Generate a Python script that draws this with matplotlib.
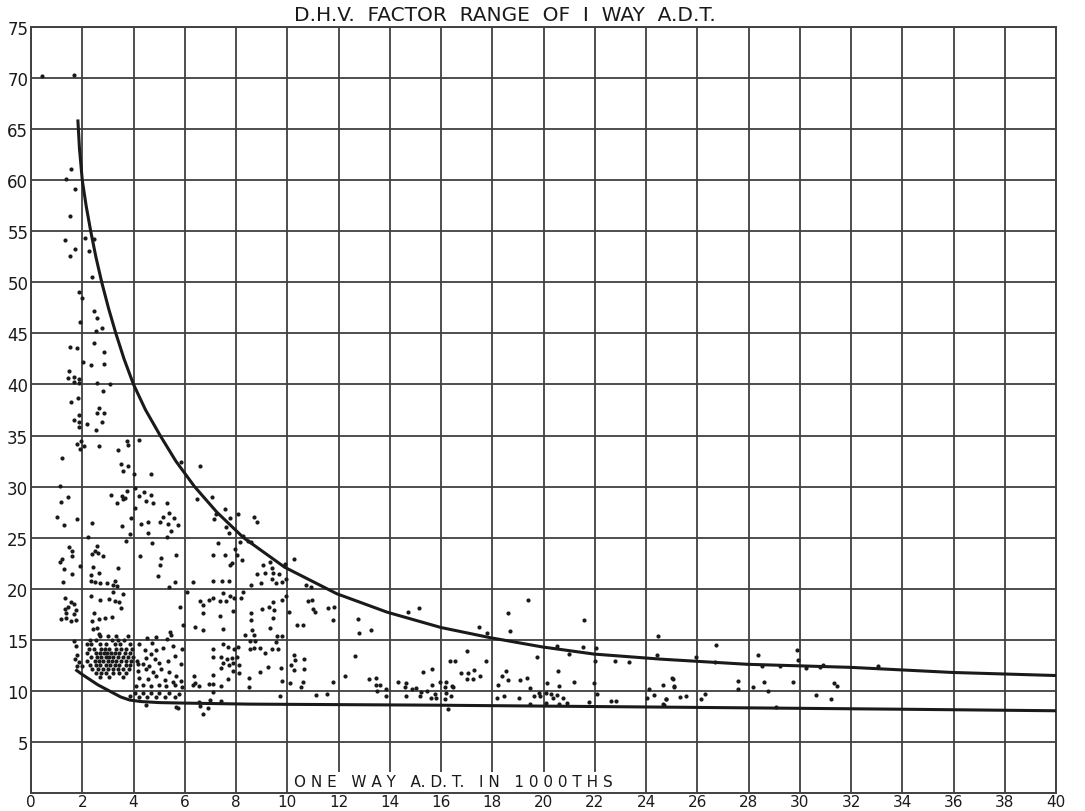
import matplotlib
matplotlib.use("Agg")
import matplotlib.pyplot as plt
import numpy as np

# x ticks (one way ADT in 1000ths) and y ticks (DHV factor)
x_ticks = list(range(0, 41, 2))
y_ticks = list(range(5, 76, 5))

# envelope curves
upper_x = [1.83, 1.89, 2.0, 2.15, 2.33, 2.53, 2.76, 3.02, 3.31, 3.63, 4.0, 4.47, 5.04,
           5.65, 6.38, 7.25, 8.29, 9.9, 11.94, 13.9, 16.0, 17.93, 19.95, 21.97, 24.6,
           27.95, 31.98, 35.96, 40.0]
upper_y = [65.8, 63.1, 60.0, 57.5, 55.0, 52.5, 50.0, 47.5, 45.0, 42.5, 40.0, 37.5, 35.0,
           32.5, 30.0, 27.5, 25.0, 22.1, 19.5, 17.7, 16.2, 15.2, 14.3, 13.6, 13.1,
           12.6, 12.3, 11.8, 11.5]
lower_x = [1.78, 2.0, 2.3, 2.6, 2.9, 3.2, 3.5, 3.85, 4.3, 5.0, 6.0, 8.5, 15.6, 25.0, 34.0, 40.0]
lower_y = [12.0, 11.6, 11.1, 10.6, 10.2, 9.8, 9.4, 9.1, 8.95, 8.85, 8.8, 8.7, 8.6, 8.4, 8.2, 8.05]

# observed stations, grouped by area of the sheet
pts_left = [
    (0.43, 70.2), (1.68, 70.3),
    (1.56, 61.1), (1.36, 60.1), (1.70, 59.1), (1.52, 56.5), (1.32, 54.1), (1.70, 53.3),
    (1.51, 52.6), (1.88, 49.1), (2.0, 48.5), (1.9, 46.1), (1.53, 43.7), (1.8, 43.6),
    (2.02, 42.2), (1.47, 41.3), (1.45, 40.6), (1.68, 40.7), (1.88, 40.5), (1.67, 40.2),
    (1.88, 40.1), (1.82, 38.7), (1.56, 38.3), (1.88, 37.0), (1.68, 36.5), (1.88, 36.3),
    (1.88, 35.8), (1.94, 34.5), (1.8, 34.2), (2.08, 34.0), (1.91, 33.7), (1.19, 32.8),
    (1.13, 30.1), (1.45, 29.0), (1.17, 28.5), (1.03, 27.0), (1.79, 26.8), (1.29, 26.2),
    (1.5, 24.1), (1.13, 22.6), (1.2, 22.9), (1.6, 23.2), (1.6, 23.7), (1.28, 21.9),
    (1.6, 21.4), (1.91, 22.2), (1.25, 20.7),
    (1.34, 19.1), (1.55, 18.7), (1.66, 18.5), (1.46, 18.2), (1.31, 18.0), (1.74, 17.9),
    (1.37, 17.6), (1.66, 17.5), (1.17, 17.0), (1.37, 17.1), (1.56, 16.8), (1.76, 16.9),
    (1.66, 14.9), (1.76, 14.4), (1.8, 13.5), (1.73, 13.1), (1.88, 12.8), (1.98, 12.4),
    (1.8, 12.4),
]
pts_2_4_upper = [
    (2.1, 54.3), (2.45, 54.2), (2.26, 53.1), (2.38, 50.5), (2.47, 47.2), (2.57, 46.5),
    (2.76, 45.5), (2.55, 45.2), (2.45, 44.1), (2.85, 43.2), (2.35, 41.9), (2.86, 42.0),
    (2.59, 40.1), (3.08, 40.0), (2.79, 39.4), (2.64, 37.7), (2.59, 37.2), (2.86, 37.2),
    (2.76, 36.3), (2.19, 36.1), (2.54, 35.5), (2.65, 34.0),
    (3.75, 34.5), (4.22, 34.6), (3.8, 34.1), (3.4, 33.6), (3.5, 32.2), (3.79, 32.0),
    (3.58, 31.5), (4.01, 31.2), (4.06, 29.9), (3.14, 29.2), (3.55, 29.1), (3.6, 28.8),
    (3.66, 28.9), (4.23, 29.1), (4.41, 29.5), (3.76, 29.6), (3.37, 28.4), (4.06, 27.9),
    (3.9, 26.9), (2.37, 26.4), (3.55, 26.1), (3.87, 25.4), (2.24, 25.1), (3.71, 24.7),
    (2.59, 24.2),
    (2.37, 23.4), (2.5, 23.7), (2.6, 23.5), (2.82, 23.2), (2.43, 22.1), (3.41, 22.0),
    (2.67, 21.5), (2.33, 21.3), (2.33, 20.8), (2.5, 20.7), (2.7, 20.6), (2.95, 20.6),
    (3.28, 20.8), (3.18, 20.4), (3.37, 20.3), (3.2, 19.7), (3.6, 19.5), (2.33, 19.3),
    (2.7, 18.9), (3.03, 19.0), (3.28, 18.8), (3.44, 18.7), (3.5, 18.1),
    (2.37, 16.8), (2.65, 17.0), (2.89, 17.1), (3.15, 17.2), (2.46, 17.6), (2.57, 16.2),
    (2.43, 16.1), (2.65, 15.6),
]
pts_2_4_cluster = [
    (2.68, 15.4), (3.0, 15.4), (3.32, 15.4), (3.78, 15.4),
    (2.29, 15.0), (2.55, 15.0), (3.17, 15.0), (3.39, 15.0), (3.61, 15.0),
    (2.18, 14.6), (2.35, 14.6), (2.68, 14.6), (2.91, 14.6), (3.26, 14.6), (3.49, 14.6), (3.87, 14.6),
    (2.26, 14.1), (2.45, 14.1), (2.74, 14.1), (2.87, 14.1), (3.06, 14.1), (3.32, 14.1),
    (3.52, 14.1), (3.71, 14.1), (3.95, 14.1),
    (2.18, 13.7), (2.55, 13.7), (2.68, 13.7), (2.83, 13.7), (2.96, 13.7), (3.13, 13.7),
    (3.26, 13.7), (3.45, 13.7), (3.65, 13.7), (3.87, 13.7),
    (2.35, 13.3), (2.58, 13.3), (2.74, 13.3), (2.94, 13.3), (3.06, 13.3), (3.19, 13.3),
    (3.39, 13.3), (3.58, 13.3), (3.78, 13.3), (3.97, 13.3),
    (2.18, 12.9), (2.48, 12.9), (2.65, 12.9), (2.81, 12.9), (3.0, 12.9), (3.17, 12.9),
    (3.32, 12.9), (3.52, 12.9), (3.71, 12.9), (3.91, 12.9),
    (2.29, 12.5), (2.55, 12.5), (2.7, 12.5), (2.91, 12.5), (3.09, 12.5), (3.26, 12.5),
    (3.45, 12.5), (3.69, 12.5), (3.87, 12.5),
    (2.39, 12.1), (2.61, 12.1), (2.81, 12.1), (3.0, 12.1), (3.19, 12.1), (3.39, 12.1),
    (3.58, 12.1), (3.82, 12.1),
    (2.55, 11.7), (2.74, 11.7), (2.94, 11.7), (3.19, 11.7), (3.43, 11.7), (3.69, 11.7),
    (2.68, 11.4), (3.06, 11.4), (3.58, 11.4),
]
pts_4_6 = [
    (4.67, 31.2), (4.67, 29.2), (4.48, 28.6), (4.75, 28.4), (5.3, 28.4), (5.86, 32.4),
    (5.39, 27.4), (5.14, 27.0), (5.58, 26.9), (4.56, 26.5), (4.29, 26.3), (5.02, 26.5),
    (5.34, 26.3), (5.72, 26.2), (5.45, 25.7), (4.56, 25.5), (5.3, 25.1), (4.71, 24.5),
    (4.26, 23.2), (5.09, 23.0), (5.65, 23.3), (5.04, 22.3), (4.97, 21.2), (5.63, 20.7),
    (5.4, 20.2), (6.08, 19.7), (5.82, 18.2), (5.93, 16.4), (5.43, 15.8),
    (4.53, 15.2), (4.86, 15.3), (4.21, 14.6), (4.73, 14.7), (5.47, 15.5), (5.31, 15.1),
    (5.53, 14.4), (5.9, 14.1), (4.43, 14.0), (4.69, 13.6), (4.88, 14.0), (5.14, 14.2),
    (5.6, 13.4), (4.49, 13.2), (4.82, 13.1), (4.13, 12.9), (4.17, 12.6), (4.36, 12.6),
    (4.62, 12.4), (5.01, 12.7), (5.34, 12.9), (5.86, 12.6), (4.17, 11.9), (4.49, 12.1),
    (4.75, 11.8), (5.08, 12.1), (5.4, 11.8), (5.66, 11.5), (4.23, 11.3), (4.56, 11.2),
    (4.88, 11.5), (5.21, 11.1), (5.53, 10.9), (5.86, 11.0), (4.1, 10.5), (4.36, 10.6),
    (4.69, 10.5), (4.99, 10.6), (5.27, 10.5), (5.6, 10.6), (5.9, 10.4),
    (3.87, 9.5), (4.04, 9.8), (4.21, 9.4), (4.36, 9.8), (4.53, 9.4), (4.69, 9.8),
    (4.86, 9.4), (5.01, 9.8), (5.21, 9.4), (5.4, 9.8), (5.6, 9.4), (5.79, 9.7),
    (4.49, 8.6), (5.66, 8.4), (5.74, 8.3),
]
pts_6_10 = [
    (6.6, 32.0), (6.47, 28.8), (7.07, 29.0), (7.57, 27.8), (8.07, 27.3), (7.13, 26.8),
    (7.77, 26.9), (7.62, 26.0), (7.73, 25.5), (8.27, 25.2), (8.46, 24.7), (7.29, 24.5),
    (7.21, 27.3), (8.71, 27.0), (8.81, 26.5), (8.17, 24.6), (8.58, 24.6), (7.97, 23.9),
    (7.09, 23.3), (7.58, 23.3), (8.03, 23.3), (8.23, 22.8), (7.84, 22.5), (7.77, 22.3),
    (9.07, 22.3), (9.33, 22.6), (10.28, 22.9), (9.9, 22.4), (9.4, 22.0),
    (6.34, 20.7), (6.4, 16.3), (6.58, 18.8),
    (7.12, 20.8), (7.45, 20.8), (7.71, 20.8), (8.59, 20.4), (8.97, 20.6), (9.4, 21.0),
    (9.57, 20.6), (9.79, 20.7), (9.96, 21.0), (8.8, 21.4), (9.14, 21.5), (9.44, 21.5),
    (9.66, 21.4), (7.49, 19.6), (7.75, 19.3), (7.94, 19.1), (8.26, 19.7), (8.19, 19.1),
    (7.12, 19.1), (6.93, 18.9), (7.36, 18.8), (7.62, 18.8), (7.9, 17.8), (6.73, 18.4),
    (6.7, 17.6), (7.36, 17.3), (6.73, 16.0), (7.49, 16.1),
    (9.01, 18.0), (9.27, 18.2), (9.46, 18.7), (9.5, 17.9), (9.43, 17.1), (8.59, 17.6),
    (8.59, 16.9), (8.64, 16.0), (9.33, 16.2), (9.59, 15.4), (9.79, 15.4), (8.36, 15.5),
    (8.7, 15.5), (8.56, 14.9), (8.75, 14.9), (8.53, 14.1), (8.69, 14.2), (8.92, 14.2),
    (9.14, 13.7), (9.4, 14.1), (9.62, 14.1), (9.57, 14.8), (9.96, 19.3), (9.79, 18.9),
    (10.05, 17.7), (10.38, 16.4),
    (7.09, 14.1), (7.48, 14.6), (7.68, 14.3), (7.94, 14.1), (8.07, 14.3), (7.12, 13.3),
    (7.42, 13.3), (7.64, 13.1), (7.85, 13.2), (8.03, 13.3), (7.48, 12.7), (7.72, 12.5),
    (7.9, 12.7), (8.11, 12.5), (7.42, 12.2), (7.9, 11.9), (8.13, 11.7), (7.68, 11.2),
    (7.09, 11.6), (7.09, 10.7), (7.42, 10.5),
    (6.35, 11.5), (6.32, 10.6), (6.38, 10.8), (6.57, 10.5), (6.57, 8.9), (6.6, 8.5),
    (6.9, 8.3), (6.72, 7.7), (6.96, 10.7), (7.09, 9.9), (7.42, 9.05), (7.0, 9.1),
    (8.52, 11.3), (8.94, 11.8), (9.24, 12.3), (9.76, 12.2), (10.15, 12.5), (10.32, 13.0),
    (10.28, 12.0), (10.67, 12.1), (10.65, 13.1), (10.28, 13.5), (9.8, 11.0), (10.12, 10.8),
    (10.6, 10.9), (8.52, 10.4), (9.7, 9.5), (10.54, 10.4),
]
pts_10_16 = [
    (10.74, 20.4), (10.93, 20.2), (10.8, 18.8), (10.95, 18.9), (11.0, 18.0), (11.1, 17.7),
    (10.6, 16.4), (11.58, 18.1), (11.84, 18.2), (11.78, 16.9), (12.75, 17.0), (12.79, 15.7),
    (13.28, 16.0), (14.73, 17.7), (15.14, 18.1),
    (11.13, 9.6), (11.54, 9.7), (11.78, 10.9), (12.27, 11.5), (12.66, 13.4), (13.17, 11.2),
    (13.47, 11.3), (13.47, 10.6), (13.63, 10.6), (13.84, 10.2), (13.5, 10.0), (13.86, 9.5),
    (14.62, 10.8), (14.58, 10.4), (14.62, 9.5), (14.88, 10.2), (15.03, 10.3), (15.23, 9.9),
    (15.45, 10.0), (15.29, 11.8), (15.63, 12.1), (15.63, 10.6), (15.75, 9.7), (15.81, 9.3),
    (15.16, 9.5), (14.32, 10.9), (16.2, 10.9), (16.47, 10.4), (16.53, 12.9),
]
pts_16_25 = [
    (19.4, 18.9), (18.6, 17.6), (21.58, 16.9), (17.5, 16.3), (18.7, 15.9), (17.8, 15.7),
    (24.48, 15.4), (24.44, 13.5), (17.0, 13.9), (16.34, 12.9), (17.77, 12.9), (19.75, 13.3),
    (20.53, 14.4), (21.54, 14.3), (22.05, 14.2), (21.0, 13.6), (22.0, 12.9), (22.79, 12.9),
    (23.35, 12.8), (16.76, 11.7), (17.06, 11.7), (17.28, 12.0), (17.0, 11.2), (17.24, 11.2),
    (17.51, 11.5), (18.36, 11.5), (18.54, 11.9), (18.62, 11.1), (19.1, 11.1), (19.36, 11.3),
    (19.49, 10.3), (18.23, 10.6), (20.14, 10.8), (20.57, 11.9), (20.6, 10.5), (21.18, 10.9),
    (21.96, 10.8), (22.07, 9.7), (15.95, 10.9), (16.17, 10.4), (16.43, 10.5), (16.21, 9.8),
    (16.4, 9.5), (16.17, 9.2), (16.27, 8.2), (15.6, 9.3), (18.19, 9.3), (18.45, 9.5),
    (19.04, 9.3), (19.46, 8.7), (19.62, 9.5), (19.82, 9.8), (19.88, 9.5), (20.11, 9.8),
    (20.31, 9.7), (20.38, 9.3), (20.53, 9.6), (20.77, 9.3), (20.6, 8.7), (20.92, 8.8),
    (20.08, 8.8), (21.77, 8.9), (22.62, 9.0), (22.83, 9.0), (24.02, 9.3), (24.11, 10.2),
    (24.31, 9.6), (24.67, 10.6), (24.67, 8.7), (24.76, 9.2), (25.02, 11.3), (25.09, 10.5),
]
pts_right = [
    (26.75, 14.5), (25.96, 13.3), (26.68, 12.8), (28.37, 13.5), (29.91, 14.0), (29.94, 13.0),
    (28.54, 12.4), (29.22, 12.4), (30.26, 12.2), (30.8, 12.3), (30.89, 12.5), (33.06, 12.4),
    (25.06, 11.2), (25.09, 10.4), (24.77, 9.2), (24.7, 8.6), (25.33, 9.4), (25.55, 9.5),
    (26.14, 9.2), (26.3, 9.7), (27.6, 11.0), (27.6, 10.2), (28.19, 10.4), (28.61, 10.9),
    (28.76, 10.0), (29.06, 8.4), (29.75, 10.9), (30.62, 9.6), (31.21, 9.2), (31.35, 10.8),
    (31.45, 10.5),
]

points = np.array(pts_left + pts_2_4_upper + pts_2_4_cluster + pts_4_6 +
                  pts_6_10 + pts_10_16 + pts_16_25 + pts_right)

ink = '#1a1a1a'
grid_col = '#404040'
font = 'DejaVu Sans'

fig = plt.figure(figsize=(10.85, 8.12), dpi=100)
ax = fig.add_axes([0.0286, 0.0222, 0.9447, 0.9433])

ax.set_xlim(0, 40)
ax.set_ylim(0, 75)
ax.set_xticks(x_ticks)
ax.set_yticks(y_ticks)
ax.set_xticklabels([str(v) for v in x_ticks], fontsize=11, color=ink, family=font)
ax.set_yticklabels([str(v) for v in y_ticks], fontsize=12, color=ink, family=font)
ax.tick_params(axis='x', length=0, pad=1)
ax.tick_params(axis='y', length=0, pad=2)
ax.grid(True, color=grid_col, lw=1.3)
ax.set_axisbelow(True)
for sp in ax.spines.values():
    sp.set_color(grid_col)
    sp.set_linewidth(1.4)

ax.scatter(points[:, 0], points[:, 1], s=9, color=ink, zorder=3, linewidths=0)
ax.plot(upper_x, upper_y, color=ink, lw=2.2, zorder=4)
ax.plot(lower_x, lower_y, color=ink, lw=2.2, zorder=4)

ax.text(18.5, 75.25, 'D.H.V.  FACTOR  RANGE  OF  I  WAY  A.D.T.', ha='center',
        va='bottom', fontsize=14.5, color=ink, family=font, clip_on=False)
ax.text(10.25, 0.35, 'O N E   W A Y   A. D. T.   I N   1 0 0 0 T H S', ha='left',
        va='bottom', fontsize=11, color=ink, family=font, zorder=5,
        bbox=dict(facecolor='white', edgecolor='none', pad=2))

fig.savefig('out.png', dpi=100, facecolor='white')
